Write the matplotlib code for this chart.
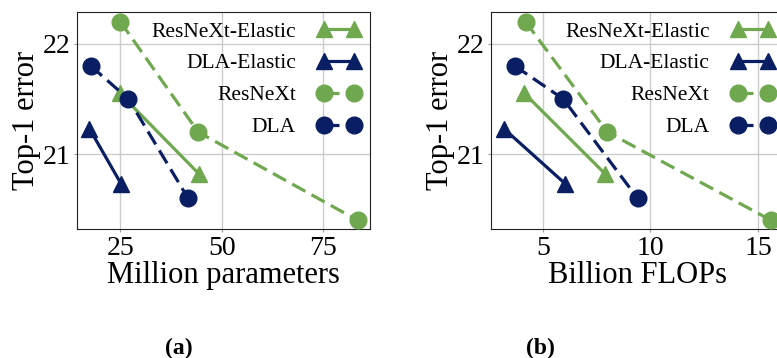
import matplotlib
matplotlib.use('Agg')
import matplotlib.pyplot as plt

plt.rcParams['font.family'] = ['Liberation Serif', 'DejaVu Serif']

green = '#70a84f'
navy = '#0a1f63'

# Million parameters
resnext_params = [25.0, 44.2, 83.5]
resnext_err = [22.2, 21.2, 20.4]
resnext_el_params = [24.9, 44.4]
resnext_el_err = [21.55, 20.82]
dla_params = [17.7, 27.0, 41.7]
dla_err = [21.8, 21.5, 20.6]
dla_el_params = [17.4, 25.2]
dla_el_err = [21.23, 20.73]

# Billion FLOPs
resnext_flops = [4.2, 8.0, 15.6]
resnext_el_flops = [4.15, 7.9]
dla_flops = [3.7, 5.95, 9.4]
dla_el_flops = [3.2, 6.05]

param_ticks = [25, 50, 75]
flop_ticks = [5, 10, 15]

fig = plt.figure(figsize=(7.77, 3.58), dpi=100)
ax1 = fig.add_axes([0.0995, 0.36, 0.377, 0.607])
ax2 = fig.add_axes([0.632, 0.36, 0.377, 0.607])


def draw(ax, xe_res, xe_dla, x_res, x_dla):
    ax.plot(xe_res, resnext_el_err, '-^', color=green, lw=2.3, ms=12, label='ResNeXt-Elastic', zorder=3)
    ax.plot(xe_dla, dla_el_err, '-^', color=navy, lw=2.3, ms=12, label='DLA-Elastic', zorder=3)
    ax.plot(x_res, resnext_err, '--o', color=green, lw=2.3, ms=12, dashes=(4.7, 2.2),
            label='ResNeXt', zorder=3)
    ax.plot(x_dla, dla_err, '--o', color=navy, lw=2.3, ms=12, dashes=(4.7, 2.2),
            label='DLA', zorder=3)
    ax.set_ylim(20.32, 22.29)
    ax.set_yticks([21, 22])
    ax.grid(True, color='#cccccc', lw=1)
    ax.set_axisbelow(True)
    ax.tick_params(labelsize=20, length=2, color='#999999', pad=3)
    ax.set_ylabel('Top-1 error', fontsize=22, labelpad=1)
    for s in ax.spines.values():
        s.set_color('#222222')
    ax.legend(loc='upper right', frameon=False, markerfirst=False, numpoints=2,
              fontsize=15.5, handlelength=2.0, handletextpad=1.0, labelspacing=0.55,
              borderaxespad=0.15, borderpad=0.3)


draw(ax1, resnext_el_params, dla_el_params, resnext_params, dla_params)
ax1.set_xlim(14.4, 86.6)
ax1.set_xticks(param_ticks)
ax1.set_xlabel('Million parameters', fontsize=22, labelpad=0)

draw(ax2, resnext_el_flops, dla_el_flops, resnext_flops, dla_flops)
ax2.set_xlim(2.6, 16.2)
ax2.set_xticks(flop_ticks)
ax2.set_xlabel('Billion FLOPs', fontsize=22, labelpad=0)

fig.text(0.23, 0.028, '(a)', fontsize=17, fontweight='bold', ha='center', va='center')
fig.text(0.695, 0.028, '(b)', fontsize=17, fontweight='bold', ha='center', va='center')

fig.savefig('out.png', dpi=100)
